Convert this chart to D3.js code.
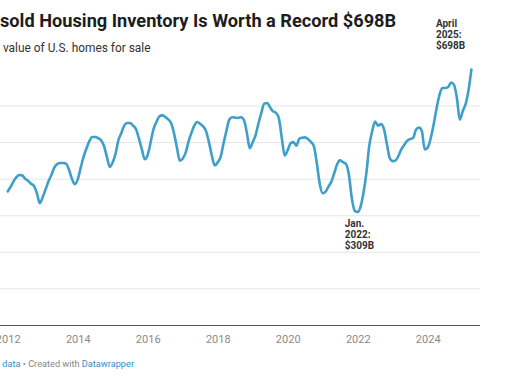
<!DOCTYPE html>
<html>
<head>
<meta charset="utf-8">
<script src="https://cdn.jsdelivr.net/npm/d3@7"></script>
<style>
  body { margin: 0; background: #fff; overflow: hidden; }
  svg { display: block; font-family: Roboto, "Noto Sans", sans-serif; }
</style>
</head>
<body>
<div id="chart"></div>
<script>
// monthly value of homes for sale, billions of dollars, Jan 2012 - Apr 2025
const firstMonth = "2012-01";
const values = [
  365, 378, 392, 404, 410, 409, 400, 394, 386, 380, 360, 333,
  350, 372, 392, 410, 430, 440, 443, 443, 441, 425, 400, 385,
  398, 430, 458, 482, 502, 514, 514, 511, 505, 490, 460, 432,
  445, 470, 505, 525, 545, 552, 552, 545, 535, 510, 480, 453,
  465, 500, 535, 555, 570, 573, 569, 562, 552, 525, 485, 449,
  455, 472, 500, 525, 545, 555, 550, 543, 530, 500, 462, 436,
  445, 460, 495, 530, 561, 568, 567, 566, 568, 561, 525, 483,
  500, 520, 550, 580, 605, 607, 595, 584, 580, 565, 510, 463,
  478, 497, 500, 490, 509, 512, 513, 508, 500, 488, 440, 385,
  360, 365, 378, 392, 415, 440, 450, 445, 440, 410, 345, 312,
  309, 325, 360, 415, 490, 530, 556, 545, 549, 536, 495, 456,
  448, 450, 462, 480, 492, 504, 508, 511, 534, 540, 530, 480,
  485, 510, 545, 590, 627, 648, 648, 650, 663, 657, 620, 561,
  585, 605, 640, 698
];
const yearTicks = [2012, 2014, 2016, 2018, 2020, 2022, 2024];
const gridValues = [100, 200, 300, 400, 500, 600];
const notes = [
  { month: "2025-04", lines: ["April", "2025:", "$698B"], side: "above" },
  { month: "2022-01", lines: ["Jan.", "2022:", "$309B"], side: "below" }
];

const width = 510;
const height = 382;

const parseMonth = d3.timeParse("%Y-%m");
const start = parseMonth(firstMonth);
const data = values.map(function(v, i) {
  return { date: d3.timeMonth.offset(start, i), value: v };
});

const svg = d3.select("#chart")
  .append("svg")
  .attr("width", width)
  .attr("height", height);

const x = d3.scaleTime()
  .domain([new Date(2012, 0, 1), new Date(2024, 0, 1)])
  .range([7.7, 427.7]);

const y = d3.scaleLinear()
  .domain([0, 600])
  .range([325, 105.5]);

const plotLeft = 0;
const plotRight = 480;

// header text, cropped on the left like the reference
function croppedText(full, hidden, yPos, size, weight, fill) {
  const t = svg.append("text")
    .attr("y", yPos)
    .attr("font-size", size)
    .attr("font-weight", weight)
    .attr("fill", fill)
    .text(hidden);
  const w = t.node().getComputedTextLength();
  t.text(full).attr("x", -w);
  return t;
}

croppedText("Unsold Housing Inventory Is Worth a Record $698B", "Un", 27, 18.2, 700, "#1d1d1d");
croppedText("Total value of U.S. homes for sale", "Total ", 52, 11.9, 400, "#333");

// grid
svg.append("g")
  .selectAll("line")
  .data(gridValues)
  .enter().append("line")
    .attr("x1", plotLeft)
    .attr("x2", plotRight)
    .attr("y1", d => y(d) + 0.5)
    .attr("y2", d => y(d) + 0.5)
    .attr("stroke", "#e6e6e6")
    .attr("stroke-width", 1);

// x axis
const xAxis = d3.axisBottom(x)
  .tickValues(yearTicks.map(yr => new Date(yr, 0, 1)))
  .tickFormat(d3.timeFormat("%Y"))
  .tickSize(0)
  .tickPadding(10);

const axisG = svg.append("g")
  .attr("transform", `translate(0,${y(0)})`)
  .call(xAxis);
axisG.select(".domain").remove();
axisG.selectAll("text")
  .attr("font-family", "Roboto, sans-serif")
  .attr("font-size", 11)
  .attr("fill", "#8a8a8a");

svg.append("line")
  .attr("x1", plotLeft)
  .attr("x2", plotRight)
  .attr("y1", y(0) + 0.5)
  .attr("y2", y(0) + 0.5)
  .attr("stroke", "#555")
  .attr("stroke-width", 1);

// the line
const line = d3.line()
  .x(d => x(d.date))
  .y(d => y(d.value))
  .curve(d3.curveMonotoneX);

svg.append("path")
  .datum(data)
  .attr("fill", "none")
  .attr("stroke", "#3d9fca")
  .attr("stroke-width", 2.6)
  .attr("stroke-linejoin", "round")
  .attr("stroke-linecap", "round")
  .attr("d", line);

// annotations
notes.forEach(function(n) {
  const d = data.find(p => d3.timeFormat("%Y-%m")(p.date) === n.month);
  const px = x(d.date);
  const py = y(d.value);
  const lh = 11;
  let x0, y0;
  if (n.side === "above") {
    x0 = px - 35.5;
    y0 = py - 21 - lh * (n.lines.length - 1);
  } else {
    x0 = px - 13;
    y0 = py + 15;
  }
  const t = svg.append("text")
    .attr("font-size", 10)
    .attr("font-weight", 700)
    .attr("fill", "#333");
  n.lines.forEach(function(s, i) {
    t.append("tspan")
      .attr("x", x0)
      .attr("y", y0 + i * lh)
      .text(s);
  });
});

// footer
const footSize = 9.2;
const foot = svg.append("text")
  .attr("y", 367)
  .attr("font-size", footSize)
  .attr("fill", "#888");
foot.append("tspan").attr("fill", "#3b8cc4").text("Get the data");
foot.append("tspan").text(" \u2022 Created with ");
foot.append("tspan").attr("fill", "#3b8cc4").text("Datawrapper");
const probe = svg.append("text").attr("font-size", footSize).text("Get the");
foot.attr("x", -probe.node().getComputedTextLength());
probe.remove();
</script>
</body>
</html>
